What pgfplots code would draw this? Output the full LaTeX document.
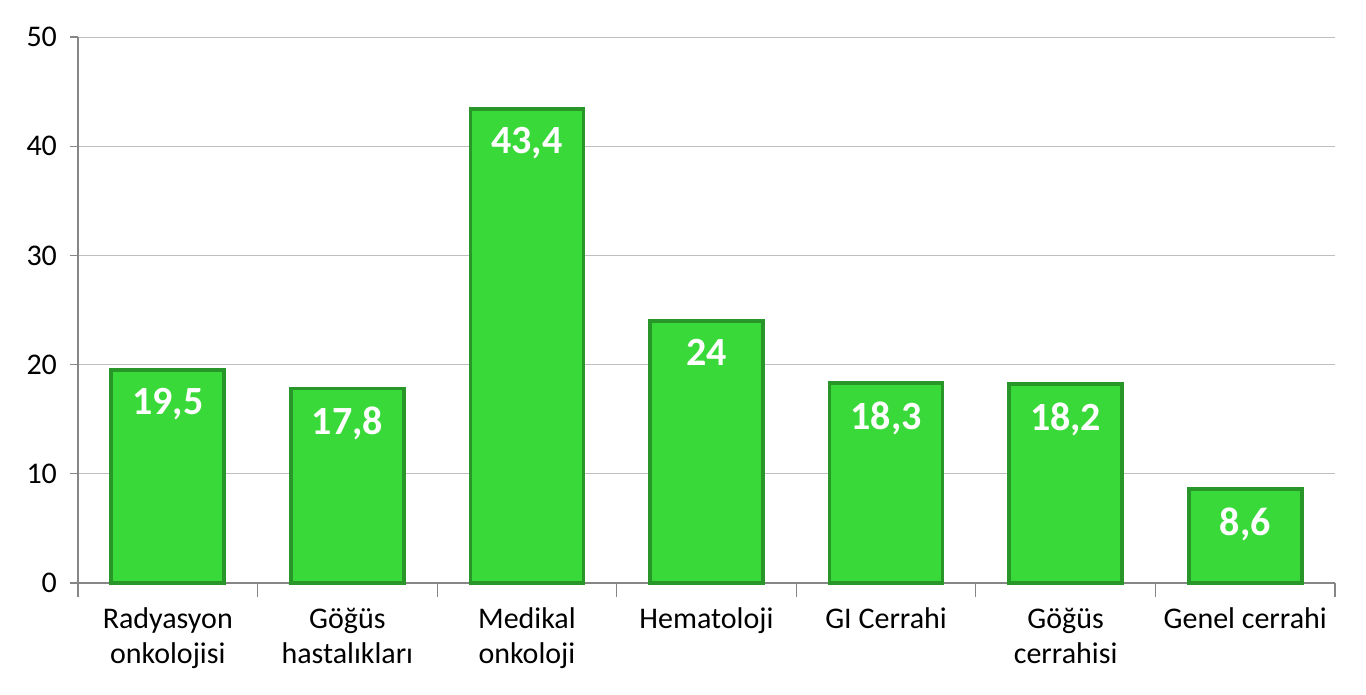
\documentclass[border=0pt]{standalone}
\usepackage{fontspec}
\setmainfont{Carlito}
\usepackage{pgfplots}
\pgfplotsset{compat=1.18}

\definecolor{barface}{RGB}{58,217,58}
\definecolor{baredge}{RGB}{40,150,40}
\definecolor{gridgray}{RGB}{191,191,191}
\definecolor{axisgray}{RGB}{134,134,134}

\begin{document}
\begin{tikzpicture}
\path[use as bounding box] (-39pt,-56pt) rectangle (644pt,291.5pt);
\begin{axis}[
    at={(0,0)}, anchor=south west,
    scale only axis,
    width=628.5pt, height=273pt,
    ybar, bar width=56.5pt,
    xmin=-0.5, xmax=6.5,
    ymin=0, ymax=50,
    ytick={0,10,...,50},
    xtick={0,...,6},
    xticklabels={{Radyasyon\\onkolojisi},{Göğüs\\hastalıkları},{Medikal\\onkoloji},Hematoloji,GI Cerrahi,{Göğüs\\cerrahisi},Genel cerrahi},
    x tick label style={align=center, font=\fontsize{15}{17.5}\selectfont, yshift=-5pt},
    y tick label style={font=\fontsize{15}{17}\selectfont, xshift=-3pt},
    /pgf/number format/assume math mode=true,
    minor xtick={-0.5,0.5,...,6.5},
    major x tick style={draw=none},
    minor x tick style={axisgray, line width=0.6pt},
    y tick style={axisgray, line width=0.6pt},
    tick align=outside,
    major tick length=4pt,
    minor tick length=7pt,
    axis lines*=left,
    axis line style={axisgray, line width=0.6pt, -},
    ymajorgrids,
    grid style={gridgray, line width=0.5pt},
    nodes near coords,
    nodes near coords style={anchor=north, yshift=-5pt, text=white,
        font=\fontsize{20}{23}\selectfont\bfseries,
        /pgf/number format/.cd, use comma, fixed, precision=1},
    clip=false,
]
\addplot[fill=barface, draw=baredge, line width=1.8pt] coordinates {
    (0,19.5) (1,17.8) (2,43.4) (3,24) (4,18.3) (5,18.2) (6,8.6)};
\end{axis}
\end{tikzpicture}
\end{document}
